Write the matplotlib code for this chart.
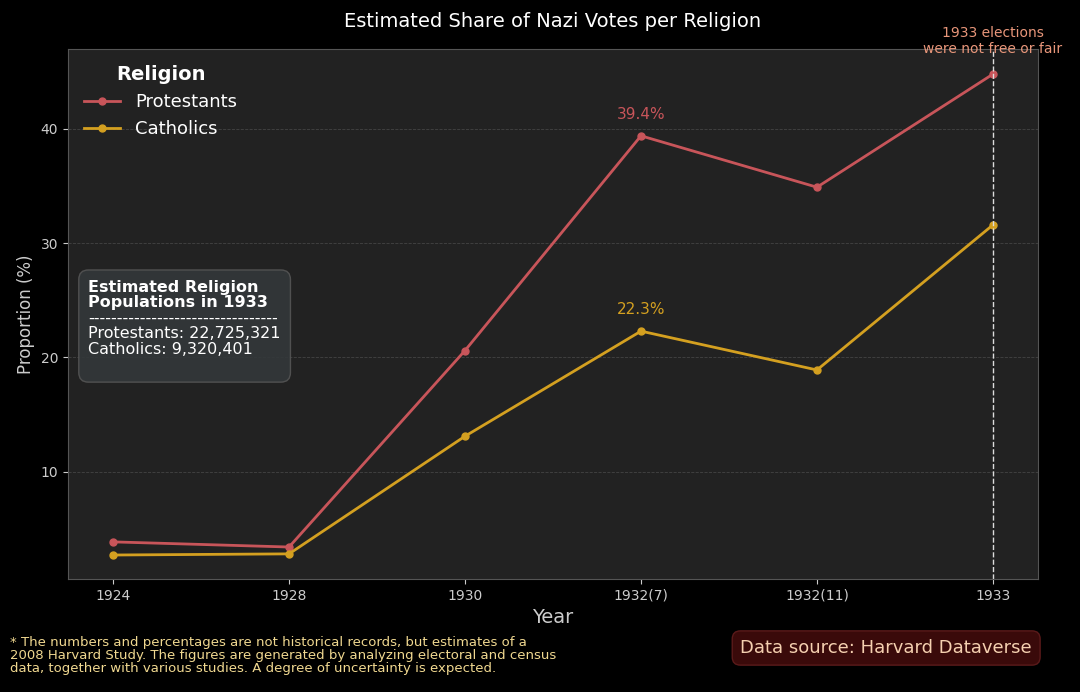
import matplotlib.pyplot as plt

years = ["1924", "1928", "1930", "1932(7)", "1932(11)", "1933"]
protestants = [3.85, 3.4, 20.6, 39.4, 34.9, 44.8]
catholics = [2.7, 2.8, 13.1, 22.3, 18.9, 31.6]
red = "#c8555a"
gold = "#d4a020"

fig = plt.figure(figsize=(10.8, 6.92), dpi=100, facecolor="black")
ax = fig.add_axes([68/1080, 1-579/692, 970/1080, 530/692])
ax.set_facecolor("#222222")
x = list(range(len(years)))
ax.plot(x, protestants, color=red, lw=2, marker="o", ms=5, label="Protestants")
ax.plot(x, catholics, color=gold, lw=2, marker="o", ms=5, label="Catholics")
ax.set_xlim(-0.256, 5.256)
ax.set_ylim(0.6, 47.0)
ax.set_xticks(x, years)
ax.set_yticks([10, 20, 30, 40])
ax.grid(axis="y", color="#444444", ls="--", lw=0.6)
for s in ax.spines.values():
    s.set_color("#555555")
ax.tick_params(colors="#cccccc", labelsize=10)
ax.set_xlabel("Year", color="#cccccc", fontsize=14)
ax.set_ylabel("Proportion (%)", color="#cccccc", fontsize=12)
ax.set_title("Estimated Share of Nazi Votes per Religion", color="white", fontsize=14, pad=16)

ax.annotate(f"{protestants[3]}%", (3, protestants[3]), xytext=(0, 12), textcoords="offset points",
            ha="center", color=red, fontsize=11)
ax.annotate(f"{catholics[3]}%", (3, catholics[3]), xytext=(0, 12), textcoords="offset points",
            ha="center", color=gold, fontsize=11)
ax.axvline(5, color="#dddddd", ls="--", lw=1)
ax.text(5, 46.4, "1933 elections\nwere not free or fair", ha="center", va="bottom",
        color="#e8967a", fontsize=10, clip_on=False)

leg = ax.legend(title="Religion", loc="upper left", frameon=False, fontsize=13,
                title_fontproperties={"weight": "bold", "size": 14})
leg.get_title().set_color("white")
for t in leg.get_texts():
    t.set_color("white")

box_lines = "Estimated Religion\nPopulations in 1933\n---------------------------------\nProtestants: 22,725,321\nCatholics: 9,320,401"
bx, by = 0.021, 0.565
ax.text(bx, by, box_lines + "\n", transform=ax.transAxes, color=(0, 0, 0, 0), fontsize=11.5,
        va="top", linespacing=1.05,
        bbox=dict(boxstyle="round,pad=0.6", fc="#33383a", ec="#555555", alpha=0.9))
ax.text(bx, by, "Estimated Religion\nPopulations in 1933", transform=ax.transAxes,
        color="white", fontsize=11.5, weight="bold", va="top", linespacing=1.05)
ax.text(bx, by, "\n\n---------------------------------\nProtestants: 22,725,321\nCatholics: 9,320,401",
        transform=ax.transAxes, color="white", fontsize=11.5, va="top", linespacing=1.05)

fig.text(10/1080, 1-636/692, "* The numbers and percentages are not historical records, but estimates of a\n"
         "2008 Harvard Study. The figures are generated by analyzing electoral and census\n"
         "data, together with various studies. A degree of uncertainty is expected.",
         color="#f0d890", fontsize=9.5, va="top", linespacing=1.0)
fig.text(1032/1080, 1-648/692, "Data source: Harvard Dataverse", color="#f5d0b0", fontsize=13,
         ha="right", va="center",
         bbox=dict(boxstyle="round,pad=0.45", fc="#3a0a0a", ec="#5a1a1a"))
fig.savefig("out.png", facecolor="black")
